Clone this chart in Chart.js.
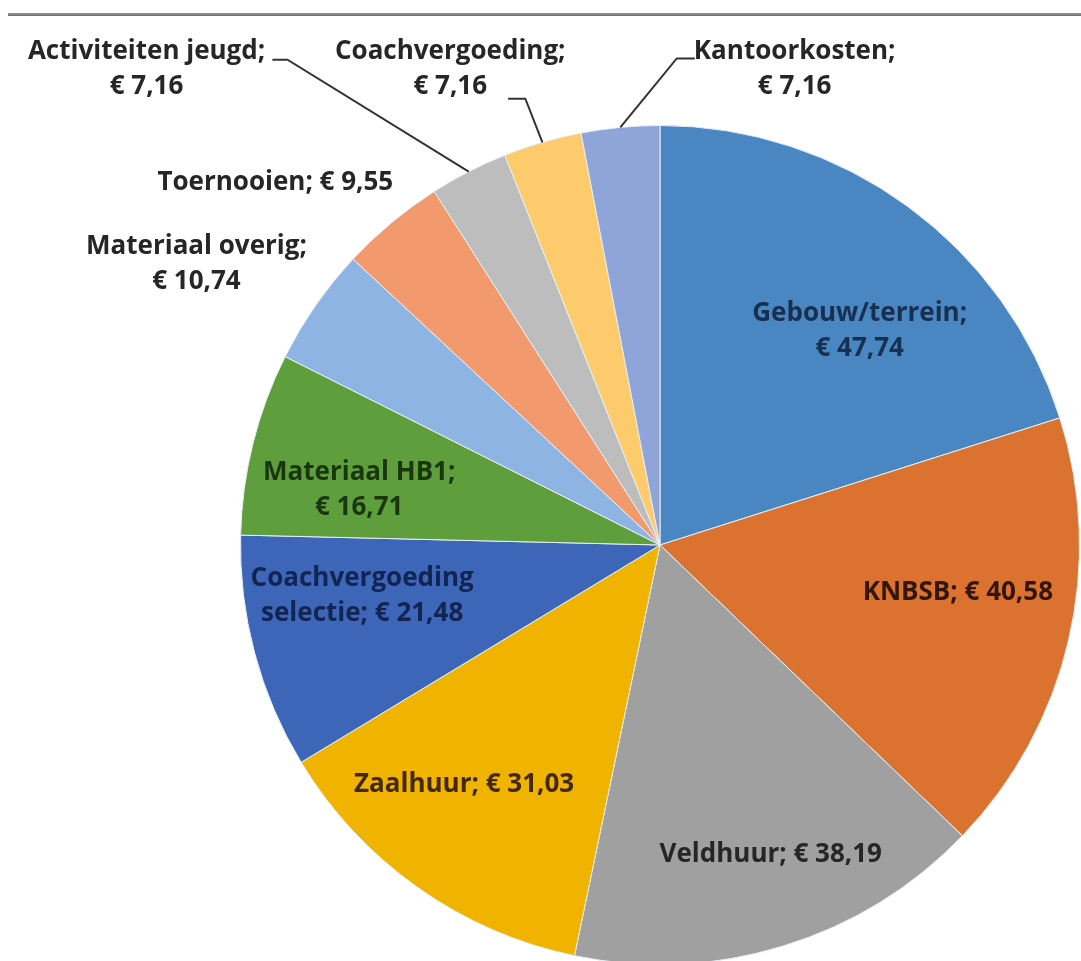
<!DOCTYPE html>
<html>
<head>
<meta charset="utf-8">
<script src="https://cdn.jsdelivr.net/npm/chart.js@4.4.0/dist/chart.umd.min.js"></script>
<style>
  html, body { margin: 0; padding: 0; background: #fff; overflow: hidden; }
  #wrap { position: absolute; left: 0; top: 0; width: 1081px; height: 1000px; }
  #topLine {
    position: absolute; left: 8px; right: 0; top: 13px; height: 3px;
    background: linear-gradient(#9a9a9a, #6e6e6e);
  }
</style>
</head>
<body>
<div id="wrap">
  <canvas id="pieChart" width="1081" height="1000"></canvas>
  <div id="topLine"></div>
</div>
<script>
// Data
const categories = [
    'Gebouw/terrein', 'KNBSB', 'Veldhuur', 'Zaalhuur', 'Coachvergoeding selectie',
    'Materiaal HB1', 'Materiaal overig', 'Toernooien', 'Activiteiten jeugd',
    'Coachvergoeding', 'Kantoorkosten'
];
const amounts = [47.74, 40.58, 38.19, 31.03, 21.48, 16.71, 10.74, 9.55, 7.16, 7.16, 7.16];

// Slice colours and label text colours
const sliceColors = [
    '#4a87c2', '#dc7230', '#a0a0a0', '#efb300', '#3e66b8',
    '#5f9e3c', '#8db4e2', '#f29a6e', '#bdbdbd', '#fdcb6c', '#8fa4d8'
];
const labelColors = [
    '#172f50', '#321608', '#262626', '#432900', '#112452',
    '#1a360f', '#262626', '#262626', '#262626', '#262626', '#262626'
];

// Label placement, in units of the pie radius from the pie centre.
// split = number of words on the first line (0 = single line)
const labelLayout = [
    { dx: 0.476, dy: -0.510, split: 1 },
    { dx: 0.710, dy: 0.114, split: 0 },
    { dx: 0.264, dy: 0.738, split: 0 },
    { dx: -0.467, dy: 0.571, split: 0 },
    { dx: -0.710, dy: 0.121, split: 1 },
    { dx: -0.717, dy: -0.131, split: 2 },
    { dx: -1.105, dy: -0.669, split: 2 },
    { dx: -0.917, dy: -0.864, split: 0 },
    { dx: -1.224, dy: -1.135, split: 2, leader: [[-0.924, -1.157], [-0.888, -1.157]] },
    { dx: -0.500, dy: -1.135, split: 1, leader: [[-0.362, -1.064], [-0.321, -1.064]] },
    { dx: 0.321, dy: -1.135, split: 1, leader: [[0.083, -1.160], [0.040, -1.160]] }
];

function euro(v) {
    return '€\u00a0' + v.toFixed(2).replace('.', ',');
}

// Plugin that draws the data labels and leader lines
const pieLabels = {
    id: 'pieLabels',
    afterDatasetsDraw(chart) {
        const ctx = chart.ctx;
        const meta = chart.getDatasetMeta(0);
        ctx.save();
        ctx.font = 'bold 26px "Open Sans"';
        ctx.textAlign = 'center';
        ctx.textBaseline = 'middle';
        meta.data.forEach(function(arc, i) {
            const p = arc.getProps(['x', 'y', 'startAngle', 'endAngle', 'outerRadius'], true);
            const R = p.outerRadius;
            const lay = labelLayout[i];

            // leader line from the slice edge to the label
            if (lay.leader) {
                const mid = (p.startAngle + p.endAngle) / 2;
                ctx.beginPath();
                ctx.strokeStyle = '#333';
                ctx.lineWidth = 2;
                ctx.moveTo(p.x + lay.leader[0][0] * R, p.y + lay.leader[0][1] * R);
                ctx.lineTo(p.x + lay.leader[1][0] * R, p.y + lay.leader[1][1] * R);
                ctx.lineTo(p.x + Math.cos(mid) * R, p.y + Math.sin(mid) * R);
                ctx.stroke();
            }

            const words = (categories[i] + '; ' + euro(amounts[i])).split(' ');
            const lines = lay.split > 0
                ? [words.slice(0, lay.split).join(' '), words.slice(lay.split).join(' ')]
                : [words.join(' ')];
            const lh = 35;
            const cx = p.x + lay.dx * R;
            const cy = p.y + lay.dy * R;
            ctx.fillStyle = labelColors[i];
            lines.forEach(function(line, k) {
                ctx.fillText(line, cx, cy + (k - (lines.length - 1) / 2) * lh);
            });
        });
        ctx.restore();
    }
};

const ctx = document.getElementById('pieChart').getContext('2d');
const pieChart = new Chart(ctx, {
    type: 'pie',
    data: {
        labels: categories,
        datasets: [{
            data: amounts,
            backgroundColor: sliceColors,
            borderColor: '#e8eef4',
            borderWidth: 1
        }]
    },
    options: {
        responsive: false,
        animation: false,
        layout: {
            padding: { left: 240, right: 1, top: 125, bottom: 35 }
        },
        plugins: {
            legend: { display: false },
            tooltip: { enabled: false }
        }
    },
    plugins: [pieLabels]
});
</script>
</body>
</html>
